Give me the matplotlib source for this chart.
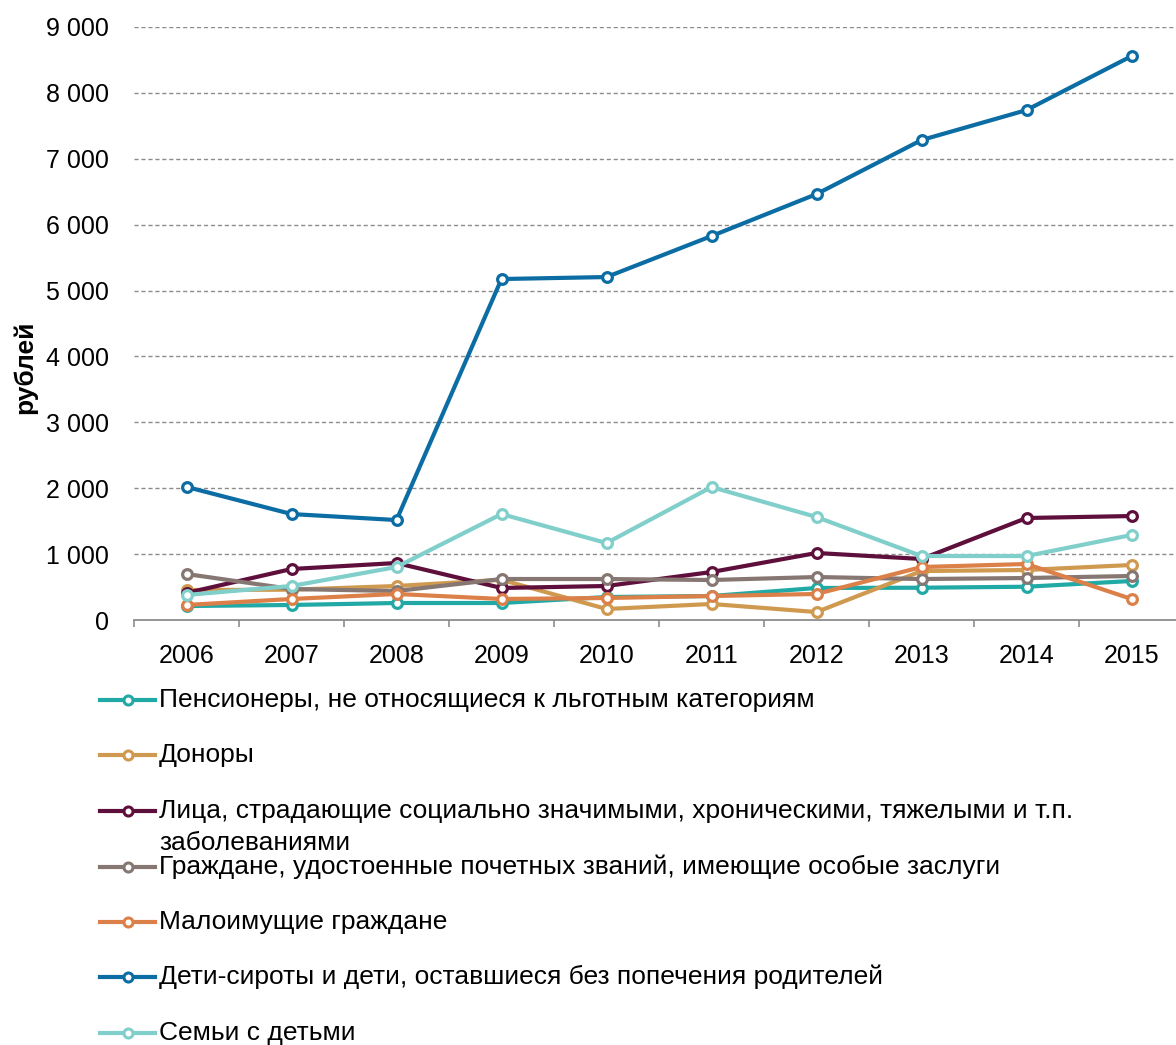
import numpy as np
import matplotlib
matplotlib.use('Agg')
import matplotlib.pyplot as plt
from matplotlib.lines import Line2D
from matplotlib.ticker import FuncFormatter, FixedLocator

plt.rcParams['font.family'] = ['Liberation Sans', 'DejaVu Sans']

# Data (рублей)
years = ['2006', '2007', '2008', '2009', '2010', '2011', '2012', '2013', '2014', '2015']

pensioners = [212, 228, 258, 258, 349, 364, 486, 490, 505, 592]
donors     = [455, 460, 516, 610, 167, 243, 121, 743, 759, 835]
chronic    = [410, 774, 865, 486, 516, 728, 1017, 926, 1548, 1578]
honored    = [698, 470, 440, 622, 622, 607, 652, 622, 637, 668]
poor       = [228, 319, 395, 319, 334, 364, 395, 804, 850, 319]
orphans    = [2020, 1608, 1517, 5175, 5205, 5827, 6464, 7284, 7739, 8558]
families   = [380, 516, 804, 1608, 1168, 2018, 1563, 971, 971, 1290]

labels = [
    'Пенсионеры, не относящиеся к льготным категориям',
    'Доноры',
    'Лица, страдающие социально значимыми, хроническими, тяжелыми и т.п.\nзаболеваниями',
    'Граждане, удостоенные почетных званий, имеющие особые заслуги',
    'Малоимущие граждане',
    'Дети-сироты и дети, оставшиеся без попечения родителей',
    'Семьи с детьми',
]
series = [pensioners, donors, chronic, honored, poor, orphans, families]
colors = ['#21a9a5', '#cf9a4f', '#5e0f3b', '#867772', '#dc8049', '#0b6da3', '#80cfcb']

W, H = 1176, 1045
fig = plt.figure(figsize=(W / 100, H / 100), dpi=100, facecolor='white')
ax = fig.add_axes([134 / W, (H - 620) / H, (1184 - 134) / W, (620 - 27) / H])

x = np.arange(len(years))
for vals, col in zip(series, colors):
    ax.plot(x, vals, color=col, linewidth=3.0, marker='o', markersize=7,
            markerfacecolor='white', markeredgecolor=col, markeredgewidth=2.3,
            solid_capstyle='round', clip_on=False)

ax.set_xlim(-0.5, 9.5)
ax.set_ylim(0, 9000)
ax.set_yticks(np.arange(0, 9001, 1000))
ax.yaxis.set_major_formatter(FuncFormatter(lambda v, p: f'{int(v):,}'.replace(',', ' ')))
ax.set_xticks(x)
ax.set_xticklabels(years)
ax.xaxis.set_minor_locator(FixedLocator(np.arange(-0.5, 9.0, 1.0)))

ax.tick_params(axis='x', which='major', length=0, pad=17, labelsize=18)
ax.tick_params(axis='x', which='minor', length=5, width=1.2, color='#8c8c8c', direction='out')
ax.tick_params(axis='y', length=0, pad=18, labelsize=18)

for s in ['top', 'right', 'left']:
    ax.spines[s].set_visible(False)
ax.spines['bottom'].set_color('#8c8c8c')
ax.spines['bottom'].set_linewidth(1.3)

for v in range(1000, 9001, 1000):
    ax.axhline(v, color='#8c8c8c', linestyle=(0, (3, 2)), linewidth=1.0, zorder=0)

ax.set_ylabel('рублей', fontsize=19, fontweight='bold')
ax.yaxis.set_label_coords((37 - 134) / (1184 - 134), (620 - 367) / (620 - 27))

# Legend drawn by hand so the wrapped entry keeps its handle on the first line
leg_y = [700, 755, 811, 867, 922, 977, 1033]
line_step = 32
for lab, col, yy in zip(labels, colors, leg_y):
    fy = (H - yy) / H
    fig.add_artist(Line2D([100 / W, 155 / W], [fy, fy], transform=fig.transFigure,
                          color=col, linewidth=3))
    fig.add_artist(Line2D([128 / W], [fy], transform=fig.transFigure, marker='o',
                          markersize=6.5, markerfacecolor='white', markeredgecolor=col,
                          markeredgewidth=2.2, linestyle='none'))
    for i, part in enumerate(lab.split('\n')):
        fig.text(159 / W, (H - yy - i * line_step) / H, part, fontsize=19,
                 va='center', ha='left')

fig.savefig('out.png', dpi=100, facecolor='white')
